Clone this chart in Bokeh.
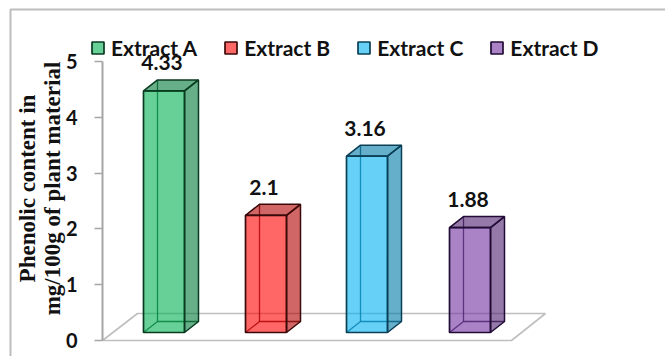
from bokeh.embed import file_html
from bokeh.resources import INLINE
from bokeh.plotting import figure
from bokeh.models import LinearAxis, FixedTicker, Legend, LegendItem, Range1d
from bokeh.core.properties import value
import math

categories = ["Extract A", "Extract B", "Extract C", "Extract D"]
phenolics = [4.33, 2.1, 3.16, 1.88]
labels = ["4.33", "2.1", "3.16", "1.88"]
front_colors = ["#00B050", "#FF0000", "#00B0F0", "#7030A0"]
side_colors = ["#007A38", "#B00000", "#007AA6", "#4E2170"]
edge_colors = ["#0A3A20", "#3A0A0A", "#0A3F55", "#220C36"]
tick_values = [0, 1, 2, 3, 4, 5]

W, H = 665, 356
PX_PER_UNIT = 55.8
ZERO_PX = 340

def val(px):
    """Value-axis coordinate for a distance from the top of the page."""
    return (ZERO_PX - px) / PX_PER_UNIT

p = figure(width=W, height=H, output_backend="svg", toolbar_location=None,
           x_range=Range1d(0, W), y_range=Range1d(val(H), val(0)),
           min_border=0, outline_line_color=None, x_axis_type=None, y_axis_type=None)
p.grid.visible = False

# outer chart border (top and left edges)
p.line([10, 10, W], [val(H), val(9), val(9)], line_color="#bdbdbd", line_width=2)

# floor of the 3D plot area
p.line([102, 511, 545, 137, 102], [val(340), val(340), val(313), val(313), val(340)],
       line_color="#bfbfbf", line_width=1.6)

# value axis, pinned inside the frame
axis = LinearAxis(ticker=FixedTicker(ticks=tick_values), fixed_location=102)
axis.axis_line_color = "#a6a6a6"
axis.axis_line_width = 2
axis.major_tick_line_color = "#a6a6a6"
axis.major_tick_line_width = 1.5
axis.major_tick_out = 8
axis.major_tick_in = 0
axis.minor_tick_line_color = None
axis.major_label_standoff = 17
axis.major_label_text_font = "Lato"
axis.major_label_text_font_style = "bold"
axis.major_label_text_font_size = "20px"
axis.major_label_text_color = "#111111"
axis.bounds = (0, 5)
p.add_layout(axis, "left")

BAR_LEFT = [143, 245, 346, 449]
BAR_W = 41
DX = 14
DY = 11 / PX_PER_UNIT
BASE = val(332)
legend_items = []

for name, v, txt, left, fc, sc, ec in zip(categories, phenolics, labels, BAR_LEFT,
                                          front_colors, side_colors, edge_colors):
    right = left + BAR_W
    top = BASE + v
    # hidden edges seen through the translucent faces
    p.multi_line([[left + DX, left + DX], [left, left + DX, right + DX]],
                 [[BASE + DY, top + DY], [BASE, BASE + DY, BASE + DY]],
                 line_color=ec, line_width=1.3, line_alpha=0.85)
    # right side and top faces
    p.patch([right, right + DX, right + DX, right], [BASE, BASE + DY, top + DY, top],
            fill_color=sc, fill_alpha=0.6, line_color=ec, line_width=1.5)
    p.patch([left, left + DX, right + DX, right], [top, top + DY, top + DY, top],
            fill_color=sc, fill_alpha=0.6, line_color=ec, line_width=1.5)
    # front face
    front = p.patch([left, right, right, left], [BASE, BASE, top, top],
                    fill_color=fc, fill_alpha=0.6, line_color=ec, line_width=1.7)
    legend_items.append(LegendItem(label=name, renderers=[front]))
    p.text([left + BAR_W / 2 - 2], [top + 28 / PX_PER_UNIT], text=[txt],
           text_font=value("Lato"), text_font_style="bold", text_font_size="21px",
           text_color="#111111", text_align="center", text_baseline="middle")

# rotated two-line value axis title
p.text([27], [val(188)], text=["Phenolic content in"], angle=math.pi / 2,
       text_font=value("Liberation Serif"), text_font_style="bold", text_font_size="23px",
       text_color="#111111", text_align="center", text_baseline="middle")
p.text([52], [val(188)], text=["mg/100g of plant material"], angle=math.pi / 2,
       text_font=value("Liberation Serif"), text_font_style="bold", text_font_size="23px",
       text_color="#111111", text_align="center", text_baseline="middle")

legend = Legend(items=legend_items, orientation="horizontal", location=(90, H - 60),
                background_fill_alpha=0, border_line_color=None,
                glyph_width=15, glyph_height=15, label_standoff=6, spacing=26,
                padding=6, margin=0,
                label_text_font="Lato", label_text_font_style="bold",
                label_text_font_size="21px", label_text_color="#111111")
p.add_layout(legend, "center")

open("out.html", "w").write(file_html(p, INLINE))
